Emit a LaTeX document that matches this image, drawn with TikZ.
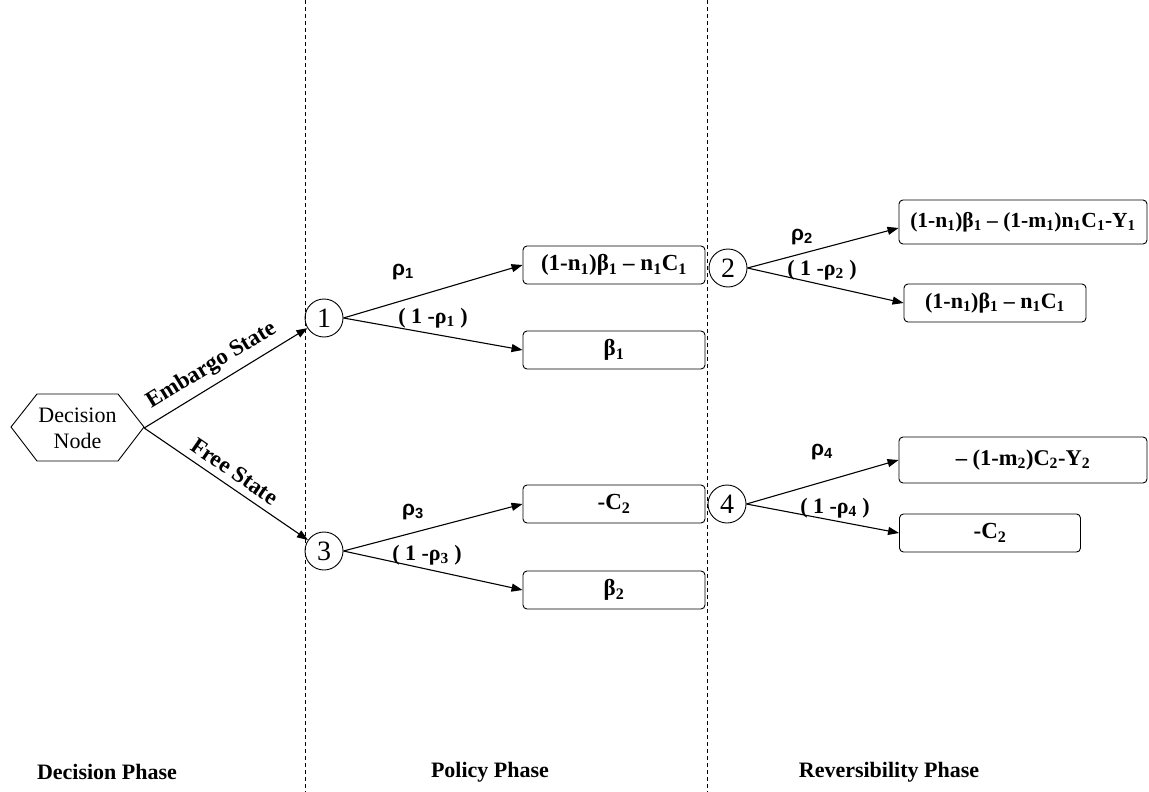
\documentclass[tikz,border=0pt]{standalone}
\usepackage{fontspec}
\setmainfont{Liberation Serif}
\newfontfamily\sansfnt{Liberation Sans}
\usetikzlibrary{arrows.meta}
\begin{document}
\begin{tikzpicture}[x=1pt,y=-1pt,
  conn/.style={line width=1.1pt,-{Triangle[length=11pt,width=8pt]}},
  phaseline/.style={line width=0.8pt,dash pattern=on 4pt off 3pt},
  chance/.style={circle,draw,line width=0.9pt,minimum size=38pt,inner sep=0pt,font=\fontsize{28}{30}\selectfont},
  payoff/.style={draw,line width=0.9pt,rounded corners=4pt,minimum height=38pt,inner sep=2pt,font=\bfseries\fontsize{23}{26}\selectfont},
  plab/.style={font=\sansfnt\bfseries\fontsize{21}{23}\selectfont,inner sep=1pt},
  qlab/.style={font=\bfseries\fontsize{22}{24}\selectfont,inner sep=1pt},
  phase/.style={font=\bfseries\fontsize{22}{24}\selectfont},
  slab/.style={font=\bfseries\fontsize{23}{25}\selectfont,sloped,above,inner sep=7pt}
]
\useasboundingbox (0,0) rectangle (1149,792);
% phase separators
\coordinate (l1t) at (305,0); \coordinate (l1b) at (305,792);
\coordinate (l2t) at (707,0); \coordinate (l2b) at (707,792);
\draw[phaseline] (l1t) -- (l1b);
\draw[phaseline] (l2t) -- (l2b);
% decision node
\draw[line width=0.9pt] (11,427)--(37,394)--(118,394)--(144,427)--(118,461)--(37,461)--cycle;
\node[minimum width=133pt,minimum height=67pt,inner sep=0pt,align=center,font=\fontsize{22}{26}\selectfont] (dn) at (77.5,428) {Decision\\Node};
% chance nodes
\node[chance] (c1) at (324,318) {1};
\node[chance] (c3) at (324,551) {3};
\node[chance] (c2) at (728,268) {2};
\node[chance] (c4) at (727,504) {4};
% payoff boxes
\node[payoff,minimum width=182pt] (A) at (614,265) {(1-n\textsubscript{1})β\textsubscript{1} – n\textsubscript{1}C\textsubscript{1}};
\node[payoff,minimum width=182pt] (B) at (614,350) {β\textsubscript{1}};
\node[payoff,minimum width=182pt] (C) at (614,504) {-C\textsubscript{2}};
\node[payoff,minimum width=182pt] (D) at (614,590) {β\textsubscript{2}};
\node[payoff,minimum width=248pt,minimum height=44pt,font=\bfseries\fontsize{21.5}{24}\selectfont] (E) at (1023,222) {(1-n\textsubscript{1})β\textsubscript{1} – (1-m\textsubscript{1})n\textsubscript{1}C\textsubscript{1}-Y\textsubscript{1}};
\node[payoff,minimum width=182pt,font=\bfseries\fontsize{22}{24}\selectfont] (F) at (995,303) {(1-n\textsubscript{1})β\textsubscript{1} – n\textsubscript{1}C\textsubscript{1}};
\node[payoff,minimum width=248pt,minimum height=46pt,font=\bfseries\fontsize{22.5}{24}\selectfont] (G) at (1023,460) {– (1-m\textsubscript{2})C\textsubscript{2}-Y\textsubscript{2}};
\node[payoff,minimum width=181pt] (H) at (990,533) {-C\textsubscript{2}};
% connectors
\draw[conn] (dn.east) -- node[slab,pos=0.47] {Embargo State} (c1);
\draw[conn] (dn.east) -- node[slab,pos=0.5] {Free State} (c3);
\draw[conn] (c1.east) -- (A.west);
\draw[conn] (c1.east) -- (B.west);
\draw[conn] (c3.east) -- (C.west);
\draw[conn] (c3.east) -- (D.west);
\draw[conn] (c2.east) -- ([yshift=-6pt]E.west);
\draw[conn] (c2.east) -- (F.west);
\draw[conn] (c4.east) -- (G.west);
\draw[conn] (c4.east) -- (H.west);
% probability labels
\node[plab] (p1) at (403,272) {ρ\textsubscript{1}};
\node[qlab] (q1) at (433,318) {( 1 -ρ\textsubscript{1} )};
\node[plab] (p3) at (413,512) {ρ\textsubscript{3}};
\node[qlab] (q3) at (427,555) {( 1 -ρ\textsubscript{3} )};
\node[plab] (p2) at (802,237) {ρ\textsubscript{2}};
\node[qlab] (q2) at (822,270) {( 1 -ρ\textsubscript{2} )};
\node[plab] (p4) at (822,452) {ρ\textsubscript{4}};
\node[qlab] (q4) at (835,508) {( 1 -ρ\textsubscript{4} )};
% phase titles
\node[phase] (ph1) at (107,772) {Decision Phase};
\node[phase] (ph2) at (490,772) {Policy Phase};
\node[phase] (ph3) at (889,772) {Reversibility Phase};
\end{tikzpicture}
\end{document}
